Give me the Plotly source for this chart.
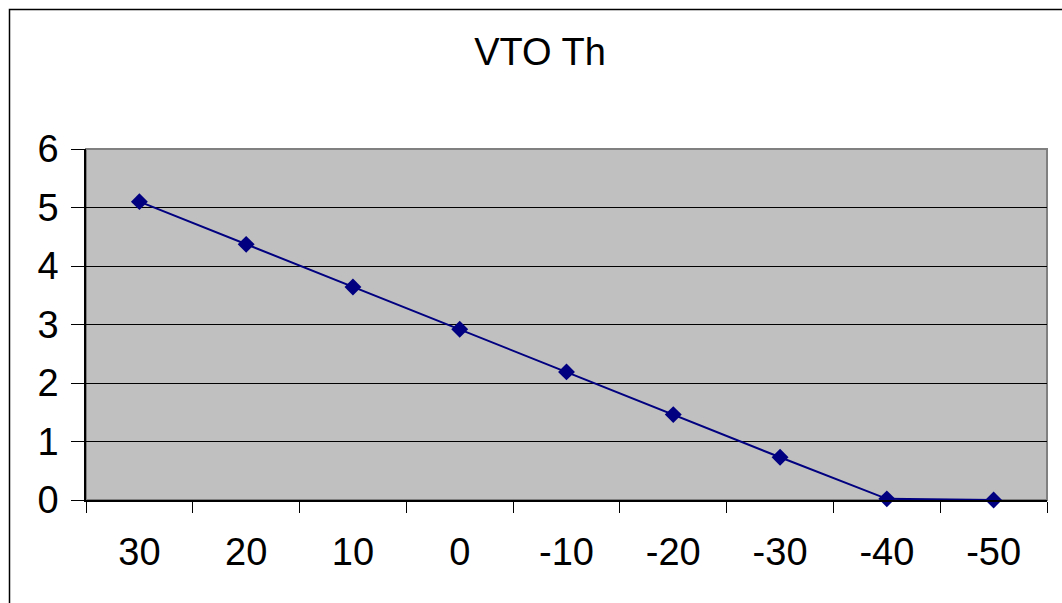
import plotly.graph_objects as go

categories = ["30", "20", "10", "0", "-10", "-20", "-30", "-40", "-50"]
values = [5.1, 4.37, 3.64, 2.92, 2.19, 1.46, 0.73, 0.02, 0.0]
title_text = "VTO Th"

W, H = 1062, 603
L, R, T, B = 86, 15, 149, 103
pw = W - L - R
ph = H - T - B

FONT = "Liberation Sans, Arial, sans-serif"
FS = 38

fig = go.Figure()
fig.add_trace(go.Scatter(
    x=categories, y=values, mode="lines+markers",
    line=dict(color="#000080", width=2),
    marker=dict(symbol="diamond", size=13, color="#000080"),
    showlegend=False, cliponaxis=False,
))

def px_x(p):
    return (p - L) / pw

def px_y(p):
    return (H - B - p) / ph

shapes = [
    dict(type="rect", xref="paper", yref="paper",
         x0=px_x(9.5), x1=px_x(1075), y0=px_y(615), y1=px_y(9.5),
         line=dict(color="#000000", width=1.5), fillcolor="rgba(0,0,0,0)", layer="below"),
    dict(type="rect", xref="paper", yref="paper", x0=0, x1=1, y0=0, y1=1,
         line=dict(color="#808080", width=2), fillcolor="rgba(0,0,0,0)", layer="below"),
]

fig.update_layout(
    width=W, height=H,
    margin=dict(l=L, r=R, t=T, b=B),
    paper_bgcolor="white",
    plot_bgcolor="#C0C0C0",
    font=dict(family=FONT, size=FS, color="#000000"),
    title=dict(text=title_text, x=540 / W, xanchor="center", xref="container",
               y=1 - 52 / H, yanchor="middle", yref="container",
               font=dict(family=FONT, size=FS, color="#000000")),
    shapes=shapes,
    xaxis=dict(
        type="category", categoryorder="array", categoryarray=categories,
        tickson="boundaries", ticks="outside", ticklen=11, tickcolor="#000000", tickwidth=1,
        showgrid=False, showline=True, linecolor="#000000", linewidth=1.5,
        zeroline=False, range=[-0.5, len(categories) - 0.5],
        tickfont=dict(family=FONT, size=FS, color="#000000"),
        ticklabelstandoff=18,
        fixedrange=True,
    ),
    yaxis=dict(
        range=[0, 6], dtick=1, tick0=0,
        ticks="outside", ticklen=13, tickcolor="#000000", tickwidth=1,
        showgrid=True, gridcolor="#000000", gridwidth=1,
        showline=True, linecolor="#000000", linewidth=1.5,
        zeroline=False,
        tickfont=dict(family=FONT, size=FS, color="#000000"),
        ticklabelstandoff=5,
        fixedrange=True,
    ),
)

fig.write_html("out.html")
